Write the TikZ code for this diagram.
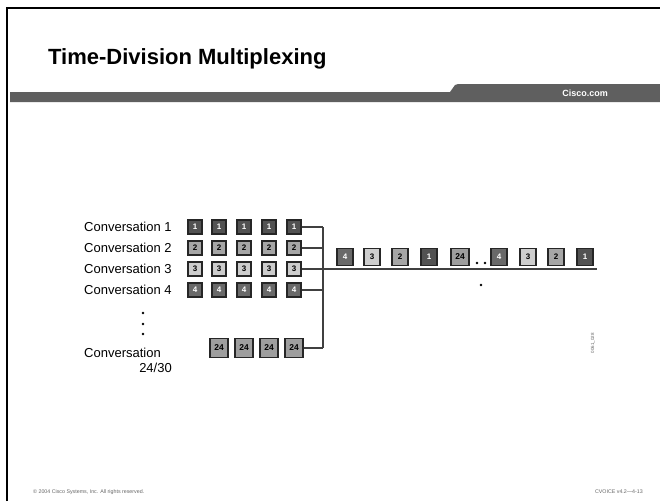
\documentclass[tikz,border=0pt]{standalone}
\usepackage{fontspec}
\setmainfont{Liberation Sans}
\definecolor{barGrey}{HTML}{5F5F5F}
\definecolor{slotA}{HTML}{525252}
\definecolor{slotB}{HTML}{A6A6A6}
\definecolor{slotC}{HTML}{CDCDCD}
\definecolor{slotD}{HTML}{696969}
\definecolor{slotE}{HTML}{9E9E9E}
\definecolor{wireGrey}{HTML}{404040}
\begin{document}
\begin{tikzpicture}[x=1pt,y=-1pt,
  lbl/.style={font=\fontsize{13}{15}\selectfont, inner sep=0pt},
  slot/.style={draw=black!85, line width=1.1pt, inner sep=0pt,
    minimum width=14pt, minimum height=14pt,
    font=\bfseries\fontsize{8}{8}\selectfont},
  sA/.style={slot, fill=slotA, text=white},
  sB/.style={slot, fill=slotB, text=black},
  sC/.style={slot, fill=slotC, text=black},
  sD/.style={slot, fill=slotD, text=white},
  sE/.style={slot, fill=slotE, text=black, minimum width=18pt, minimum height=19pt,
    font=\bfseries\fontsize{8.5}{9}\selectfont},
  mux/.style={minimum width=16pt, minimum height=17pt},
  wire/.style={draw=wireGrey, line width=1.1pt},
  tiny/.style={font=\fontsize{5.3}{6}\selectfont, text=black!60, inner sep=0pt}
]
\useasboundingbox (0,0) rectangle (660,501);
\fill[white] (0,0) rectangle (660,501);

% slide frame
\draw[line width=2.2pt] (7,501) -- (7,8) -- (660,8);

% title and header bar
\node[anchor=base west, inner sep=0pt, font=\bfseries\fontsize{22}{26}\selectfont] (title) at (48,64) {Time-Division Multiplexing};
\fill[barGrey] (10,92) -- (450,92) -- (455,85) -- (458,84) -- (660,84) -- (660,102) -- (10,102) -- cycle;
\node[text=white, font=\bfseries\fontsize{9}{9}\selectfont, inner sep=0pt] (site) at (585,93) {Cisco.com};

% conversation rows
\foreach \r/\y/\st in {1/227/sA, 2/248/sB, 3/269/sC, 4/290/sD} {
  \node[lbl, anchor=west] (conv\r) at (84,\y) {Conversation \r};
  \foreach \c/\x in {1/195, 2/219, 3/244, 4/269, 5/294}
    \node[\st] (r\r-\c) at (\x,\y) {\r};
}

% vertical ellipsis
\foreach \yy in {313,324,334} \fill (143,\yy) circle (1.4pt);

% last conversation row
\node[lbl, anchor=west] (conv24) at (84,353) {Conversation};
\node[lbl, anchor=east] (conv24b) at (172,368) {24/30};
\foreach \c/\x in {2/219, 3/244, 4/269, 5/294}
  \node[sE] (r24-\c) at (\x,348) {24};

% multiplexer bus and trunk
\coordinate (bustop) at (323,227);
\coordinate (busbot) at (323,348);
\coordinate (trunkend) at (597,269);
\draw[wire] (bustop) -- (busbot);
\draw[wire] (r1-5.east) -- (r1-5.east -| bustop);
\draw[wire] (r2-5.east) -- (r2-5.east -| bustop);
\draw[wire] (r3-5.east) -- (trunkend);
\draw[wire] (r4-5.east) -- (r4-5.east -| bustop);
\draw[wire] (r24-5.east) -- (busbot);

% interleaved time slots on the trunk
\foreach \n/\x/\st/\t in {a/345/sD/4, b/372/sC/3, c/400/sB/2, d/429/sA/1,
    f/499/sD/4, g/528/sC/3, h/556/sB/2, i/585/sA/1}
  \node[\st, mux] (m\n) at (\x,257) {\t};
\node[sE, mux, minimum width=18pt] (me) at (460,257) {24};
\fill (477,263) circle (1.3pt);
\fill (485,263) circle (1.3pt);
\fill (481,285) circle (1.3pt);

% figure id and footer
\node[tiny, rotate=90, font=\fontsize{4.5}{5}\selectfont] (figid) at (593,343) {0061\_028};
\node[tiny, anchor=west] (copy) at (33,492) {\textcopyright{} 2004 Cisco Systems, Inc. All rights reserved.};
\node[tiny, anchor=east] (code) at (643,492) {CVOICE v4.2—4-13};
\end{tikzpicture}
\end{document}
